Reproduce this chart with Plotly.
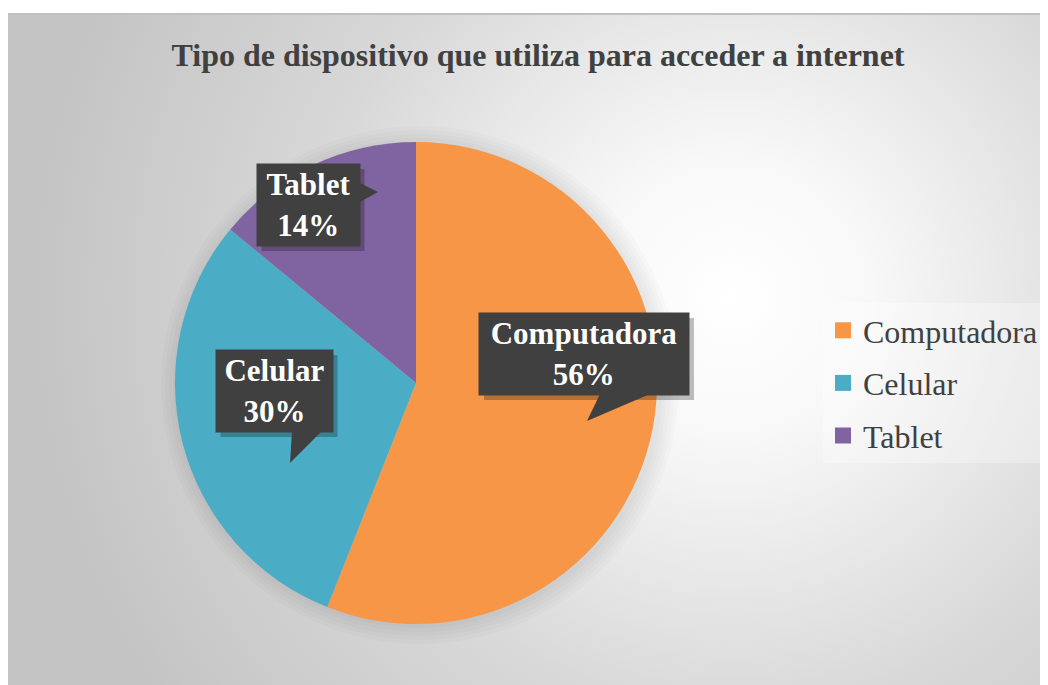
import base64
import plotly.graph_objects as go

# datos
dispositivos = ["Computadora", "Celular", "Tablet"]
porcentajes = [56, 30, 14]
colores = ["#F79646", "#4BACC6", "#8064A2"]

W, H = 1048, 685
OFF = 8  # margen que agrega el navegador

def px(x):
    return (x - OFF) / W

def py(y):
    return 1 - (y - OFF) / H

# geometria del pie (pixeles de la captura)
cx, cy, r = 416, 383, 241

# cajas de etiqueta: centro, ancho, alto, punta de la flecha
cajas = [
    dict(c=(584, 354), w=210, h=82, tail=[(600, 394), (650, 394), (587, 421)]),
    dict(c=(274, 391), w=117, h=82, tail=[(292, 431), (322, 431), (290, 463)]),
    dict(c=(308, 205), w=103, h=82, tail=[(358, 182), (358, 203), (378, 192)]),
]

# fondo con degradado radial (svg)
svg = f'''<svg xmlns="http://www.w3.org/2000/svg" width="1048" height="680" viewBox="0 0 1048 680">
<defs><radialGradient id="g" gradientUnits="userSpaceOnUse" cx="725" cy="285" r="700">
<stop offset="0" stop-color="#ffffff"/><stop offset="0.2" stop-color="#f8f8f8"/>
<stop offset="0.6" stop-color="#d8d8d8"/><stop offset="1" stop-color="#c4c4c4"/>
</radialGradient></defs>
<rect width="1048" height="680" fill="url(#g)"/>
<rect x="0" y="0" width="1048" height="2" fill="#c0c0c0"/>
</svg>'''
src = "data:image/svg+xml;base64," + base64.b64encode(svg.encode()).decode()

fig = go.Figure()
fig.add_trace(go.Pie(
    labels=dispositivos, values=porcentajes, sort=False, direction="clockwise",
    rotation=0, marker=dict(colors=colores, line=dict(width=0)),
    textinfo="none", hoverinfo="label+percent", showlegend=False,
    domain=dict(x=[px(cx - r), px(cx + r)], y=[py(cy + r), py(cy - r)]),
))

# leyenda con trazas vacias para poder separar los items
for name, col in zip(dispositivos, colores):
    fig.add_trace(go.Scatter(x=[None], y=[None], mode="markers", name=name, legendgroup=name,
                             marker=dict(symbol="square", size=16, color=col)))

shapes = []
# sombra suave del pie
for k in range(5):
    rr = r + 2 + 4 * k
    shapes.append(dict(type="circle", xref="paper", yref="paper", layer="below",
                       x0=px(cx + 4 - rr), x1=px(cx + 4 + rr), y0=py(cy + 2 + rr), y1=py(cy + 2 - rr),
                       fillcolor="rgba(0,0,0,0.016)", line=dict(width=0)))

annotations = []
total = sum(porcentajes)
for name, val, b in zip(dispositivos, porcentajes, cajas):
    (x, y), w, h = b["c"], b["w"], b["h"]
    # sombra de la caja
    shapes.append(dict(type="rect", xref="paper", yref="paper", layer="above",
                       x0=px(x - w / 2 + 5), x1=px(x + w / 2 + 5), y0=py(y + h / 2 + 5), y1=py(y - h / 2 + 5),
                       fillcolor="rgba(0,0,0,0.25)", line=dict(width=0)))
    p = b["tail"]
    path = "M {} {} L {} {} L {} {} Z".format(px(p[0][0]), py(p[0][1]), px(p[1][0]), py(p[1][1]),
                                            px(p[2][0]), py(p[2][1]))
    shapes.append(dict(type="path", xref="paper", yref="paper", layer="above", path=path,
                       fillcolor="#404040", line=dict(width=0)))
    annotations.append(dict(
        xref="paper", yref="paper", x=px(x), y=py(y), xanchor="center", yanchor="middle",
        text=f"<b>{name}<br>{round(100 * val / total)}%</b>", showarrow=False,
        width=w, height=h, borderpad=0, bgcolor="#404040", align="center", valign="middle",
        font=dict(family="Liberation Serif", size=31, color="white"),
    ))

fig.update_layout(
    width=W, height=H, margin=dict(l=0, r=0, t=0, b=0),
    paper_bgcolor="white", plot_bgcolor="rgba(0,0,0,0)",
    xaxis=dict(visible=False), yaxis=dict(visible=False),
    title=dict(text="<b>Tipo de dispositivo que utiliza para acceder a internet</b>",
               x=px(538), y=py(55), xanchor="center", yanchor="middle",
               font=dict(family="Liberation Serif", size=32, color="#404040")),
    legend=dict(x=px(823), y=py(383), xanchor="left", yanchor="middle",
                bgcolor="rgba(255,255,255,0.3)", tracegroupgap=8, traceorder="grouped",
                font=dict(family="Liberation Serif", size=32, color="#404040")),
    images=[dict(source=src, xref="paper", yref="paper", x=px(7), y=py(13),
                 sizex=1048 / W, sizey=680 / H, xanchor="left", yanchor="top",
                 sizing="stretch", layer="below")],
    shapes=shapes,
    annotations=annotations,
)

fig.write_html("out.html")
